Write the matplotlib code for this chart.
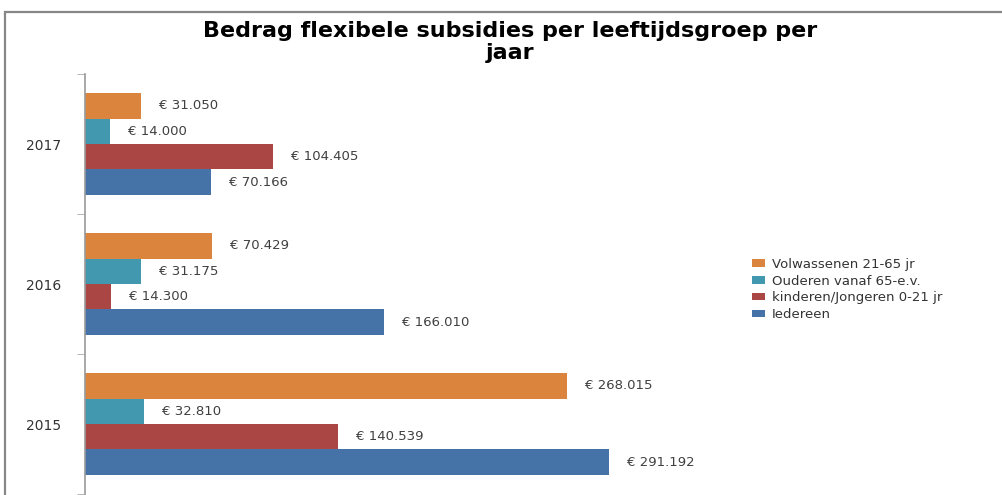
import numpy as np
import matplotlib
matplotlib.use("Agg")
import matplotlib.pyplot as plt
from matplotlib.patches import Rectangle

# --- data (top of chart = 2017) ---
years = ["2015", "2016", "2017"]
series = ["Iedereen", "kinderen/Jongeren 0-21 jr", "Ouderen vanaf 65-e.v.", "Volwassenen 21-65 jr"]
iedereen = [291192, 166010, 70166]
kinderen = [140539, 14300, 104405]
ouderen = [32810, 31175, 14000]
volwassenen = [268015, 70429, 31050]
colors = ["#4572A7", "#AA4643", "#4198AF", "#DB843D"]

values = [iedereen, kinderen, ouderen, volwassenen]

W, H = 1003, 495
fig = plt.figure(figsize=(W / 100, H / 100), dpi=100)

# chart border (extends past the right and bottom edges)
fig.patches.append(Rectangle((5 / W, -0.1), 1.2, 1 - 12 / H + 0.1, transform=fig.transFigure,
                             fill=False, edgecolor="#878787", linewidth=1.6))

ax = fig.add_axes([85 / W, 1 / H, (700 - 85) / W, (494 - 74) / H])

bh = 0.182
y = np.arange(len(years))
for i, (vals, col, name) in enumerate(zip(values, colors, series)):
    pos = y + (i - 1.5) * bh
    bars = ax.barh(pos, vals, height=bh, color=col, label=name, linewidth=0)
    for b, v in zip(bars, vals):
        lab = "€ " + f"{v:,}".replace(",", ".")
        ax.annotate(lab, (v, b.get_y() + bh / 2), xytext=(13, 0), textcoords="offset points",
                    va="center", ha="left", fontsize=9.5, color="#404040")

ax.set_ylim(-0.5, 2.5)
ax.set_xlim(0, 341700)
ax.set_yticks(y)
ax.set_yticklabels(years, fontsize=10, color="#333333")
ax.set_yticks([-0.5, 0.5, 1.5, 2.5], minor=True)
ax.tick_params(axis="y", which="major", length=0, pad=17)
ax.tick_params(axis="y", which="minor", length=6, color="#aaaaaa")
ax.set_xticks([])
for s in ["top", "right", "bottom"]:
    ax.spines[s].set_visible(False)
ax.spines["left"].set_color("#999999")
ax.spines["left"].set_linewidth(1.2)

h, l = ax.get_legend_handles_labels()
fig.legend(h[::-1], l[::-1], loc="upper left", bbox_to_anchor=(740 / W, 1 - 246 / H),
           frameon=False, fontsize=9.5, handlelength=1.0, handleheight=0.5,
           labelspacing=0.28, handletextpad=0.5, labelcolor="#333333")

fig.text(510 / W, 1 - 42 / H, "Bedrag flexibele subsidies per leeftijdsgroep per\njaar",
         ha="center", va="center", fontsize=16, fontweight="bold", linespacing=1.1)

fig.savefig("out.png", dpi=100)
